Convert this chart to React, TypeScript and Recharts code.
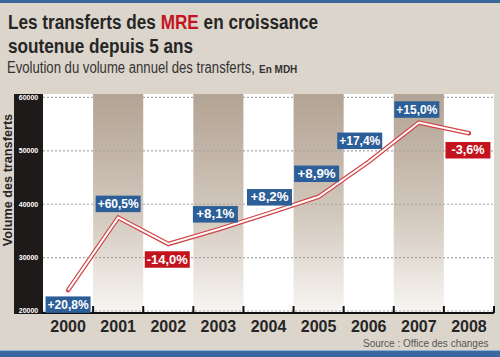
import React from 'react';
import {
  ComposedChart,
  Line,
  XAxis,
  YAxis,
  CartesianGrid,
  ReferenceArea,
  ReferenceLine,
  LabelList,
} from 'recharts';

// annual transfers of Moroccans living abroad (MDH)
const years = ['2000', '2001', '2002', '2003', '2004', '2005', '2006', '2007', '2008'];
const volumes = [23900, 37500, 32550, 35300, 38300, 41400, 47950, 55300, 53300];
const changes = ['+20,8%', '+60,5%', '-14,0%', '+8,1%', '+8,2%', '+8,9%', '+17,4%', '+15,0%', '-3,6%'];
const yTicks = [20000, 30000, 40000, 50000, 60000];
const shadedYears = ['2001', '2003', '2005', '2007'];

const data = years.map((year, i) => ({ year, volume: volumes[i], change: changes[i] }));

// where each badge sits relative to its point
const badgeShift: [number, number][] = [
  [0, 14.5], [0, -13.7], [-1, 15.5], [-3, -15], [1, -16],
  [-2, -23], [-9, -21], [-2, -13], [-1, 17],
];

const BLUE = '#2c5e98';
const RED = '#c3141e';
const INK = '#262626';
const FONT = '"Liberation Sans", Arial, sans-serif';

const ChangeBadge = (props: any) => {
  const { x, y, value, index } = props;
  if (x == null || y == null) return null;
  const [dx, dy] = badgeShift[index] || [0, -15];
  const cx = x + dx;
  const cy = y + dy;
  const text = String(value);
  const neg = text.startsWith('-');
  const len = text.length === 6 ? 41 : neg ? 33 : 38;
  return (
    <g>
      <rect x={cx - 22.5} y={cy - 8.25} width={45} height={16.5} fill={neg ? RED : BLUE} />
      <text
        x={cx}
        y={cy + 4}
        textAnchor="middle"
        fill="#fff"
        fontSize={12}
        fontWeight="bold"
        fontFamily={FONT}
        textLength={len}
        lengthAdjust="spacingAndGlyphs"
      >
        {text}
      </text>
    </g>
  );
};

const YearTick = (props: any) => {
  const { x, y, payload, width, visibleTicksCount } = props;
  const band = width / (visibleTicksCount || years.length);
  return (
    <g>
      <line x1={x + band / 2} x2={x + band / 2} y1={y - 7} y2={y} stroke="#111" strokeWidth={2} />
      <text x={x} y={y + 19} textAnchor="middle" fill={INK} fontSize={16} fontWeight="bold" fontFamily={FONT}>
        {payload.value}
      </text>
    </g>
  );
};

const VolumeTick = (props: any) => {
  const { x, y, payload } = props;
  return (
    <text x={x - 14.5} y={y + 2.5} textAnchor="middle" fill="#fff" fontSize={7} fontWeight="bold" fontFamily={FONT}>
      {payload.value}
    </text>
  );
};

export default function App() {
  return (
    <div
      style={{
        position: 'absolute',
        left: 0,
        top: 0,
        width: 500,
        height: 357,
        overflow: 'hidden',
        background: '#dcd5cb',
        fontFamily: FONT,
      }}
    >
      <div style={{ position: 'absolute', left: 0, top: 0, width: 500, height: 3, background: '#3b679e' }} />
      <div style={{ position: 'absolute', left: 0, top: 350, width: 500, height: 1, background: '#8fb0d4' }} />
      <div style={{ position: 'absolute', left: 0, top: 351, width: 500, height: 6, background: '#3a69a2' }} />
      <div style={{ position: 'absolute', left: 14, top: 94, width: 29, height: 220, background: '#1e1a19' }} />

      <svg width={500} height={357} style={{ position: 'absolute', left: 0, top: 0 }}>
        <defs>
          <linearGradient id="tanFade" x1="0" y1="0" x2="0" y2="1">
            <stop offset="0%" stopColor="#b3a393" />
            <stop offset="55%" stopColor="#d2c8bd" />
            <stop offset="100%" stopColor="#f8f6f3" />
          </linearGradient>
        </defs>
        {/* condensed headline: natural glyphs squeezed horizontally */}
        <g transform="translate(8 0) scale(0.818 1)" fontFamily={FONT} fontWeight="bold" fontSize={21} fill={INK}>
          <text x={0} y={29.5}>
            Les transferts des <tspan fill={RED}>MRE</tspan> en croissance
          </text>
          <text x={0} y={53}>soutenue depuis 5 ans</text>
        </g>
        <g transform="translate(7 0) scale(0.82 1)">
          <text x={0} y={73} fill="#333" fontFamily={FONT} fontSize={16}>
            Evolution du volume annuel des transferts,
          </text>
        </g>
        <text x={259} y={73} fill="#333" fontFamily={FONT} fontSize={10} fontWeight="bold">
          En MDH
        </text>
        <text
          x={12}
          y={180}
          transform="rotate(-90 12 180)"
          textAnchor="middle"
          fill={INK}
          fontFamily={FONT}
          fontSize={12.7}
          fontWeight="bold"
        >
          Volume des transferts
        </text>
        <text x={363} y={347} fill="#555" fontFamily={FONT} fontSize={10}>
          Source : Office des changes
        </text>
      </svg>

      <div style={{ position: 'absolute', left: 0, top: 0 }}>
        <ComposedChart width={500} height={357} data={data} margin={{ top: 94, right: 6, bottom: 14, left: 14 }}>
          <CartesianGrid fill="#fff" horizontal={false} vertical={false} />
          {shadedYears.map((y) => (
            <ReferenceArea key={y} x1={y} x2={y} fill="url(#tanFade)" fillOpacity={1} stroke="none" ifOverflow="visible" />
          ))}
          {yTicks.map((t) => (
            <ReferenceLine key={t} y={t} stroke="#a8a8a8" strokeWidth={1.2} strokeDasharray="2 2" />
          ))}
          <XAxis
            dataKey="year"
            scale="band"
            interval={0}
            height={30}
            tickSize={0}
            tickMargin={0}
            tickLine={false}
            axisLine={{ stroke: '#111', strokeWidth: 2 }}
            tick={<YearTick />}
          />
          <YAxis
            domain={[19625, 60650]}
            ticks={yTicks}
            allowDataOverflow
            width={29}
            tickSize={0}
            tickMargin={0}
            tickLine={false}
            axisLine={false}
            tick={<VolumeTick />}
          />
          <Line
            type="linear"
            dataKey="volume"
            stroke="#d04446"
            strokeWidth={4.5}
            strokeLinecap="round"
            dot={false}
            isAnimationActive={false}
          />
          <Line type="linear" dataKey="volume" stroke="#fff" strokeWidth={2} dot={false} isAnimationActive={false}>
            <LabelList dataKey="change" content={<ChangeBadge />} />
          </Line>
        </ComposedChart>
      </div>
    </div>
  );
}
